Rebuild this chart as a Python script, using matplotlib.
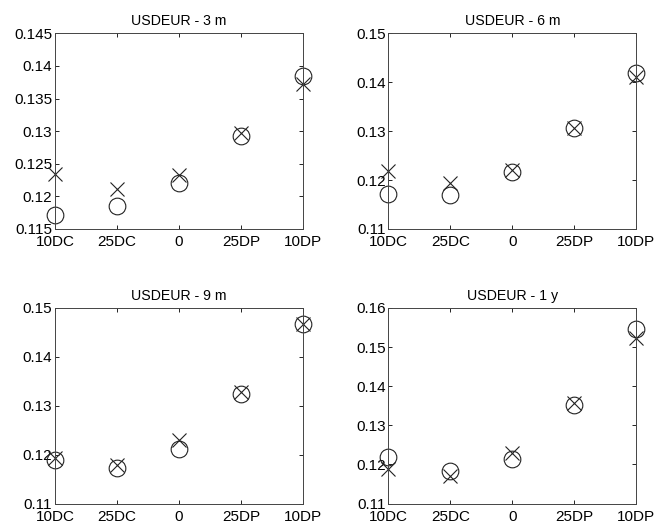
import matplotlib
matplotlib.use("Agg")
import matplotlib.pyplot as plt

plt.rcParams['font.family'] = ['Liberation Sans', 'DejaVu Sans']

categories = ["10DC", "25DC", "0", "25DP", "10DP"]

titles = ["USDEUR - 3 m", "USDEUR - 6 m", "USDEUR - 9 m", "USDEUR - 1 y"]

circle_3m = [0.1172, 0.1185, 0.1221, 0.1292, 0.1384]
cross_3m = [0.1235, 0.1211, 0.1233, 0.1297, 0.1373]

circle_6m = [0.1172, 0.1169, 0.1216, 0.1307, 0.1418]
cross_6m = [0.1219, 0.1194, 0.1221, 0.1307, 0.1410]

circle_9m = [0.1188, 0.1172, 0.1211, 0.1324, 0.1467]
cross_9m = [0.1193, 0.1179, 0.1230, 0.1329, 0.1467]

circle_1y = [0.1219, 0.1183, 0.1214, 0.1353, 0.1545]
cross_1y = [0.1188, 0.1171, 0.1230, 0.1357, 0.1523]

ylims = [(0.115, 0.145), (0.11, 0.15), (0.11, 0.15), (0.11, 0.16)]
yticks = [
    [0.115, 0.12, 0.125, 0.13, 0.135, 0.14, 0.145],
    [0.11, 0.12, 0.13, 0.14, 0.15],
    [0.11, 0.12, 0.13, 0.14, 0.15],
    [0.11, 0.12, 0.13, 0.14, 0.15, 0.16],
]
ytick_labels = [
    ["0.115", "0.12", "0.125", "0.13", "0.135", "0.14", "0.145"],
    ["0.11", "0.12", "0.13", "0.14", "0.15"],
    ["0.11", "0.12", "0.13", "0.14", "0.15"],
    ["0.11", "0.12", "0.13", "0.14", "0.15", "0.16"],
]

circles = [circle_3m, circle_6m, circle_9m, circle_1y]
crosses = [cross_3m, cross_6m, cross_9m, cross_1y]

positions = [
    [0.084, 0.568, 0.379, 0.369],
    [0.594, 0.568, 0.379, 0.369],
    [0.084, 0.050, 0.379, 0.369],
    [0.594, 0.050, 0.379, 0.369],
]

fig = plt.figure(figsize=(6.54, 5.30), dpi=100)
x = list(range(len(categories)))
ink = "#222222"

for i in range(4):
    ax = fig.add_axes(positions[i])
    ax.plot(x, crosses[i], linestyle="none", marker="x", markersize=9.5,
            markeredgewidth=0.8, color=ink, clip_on=False)
    ax.plot(x, circles[i], linestyle="none", marker="o", markersize=12,
            markerfacecolor="none", markeredgewidth=0.8, markeredgecolor=ink,
            clip_on=False)
    ax.set_xlim(0, 4)
    ax.set_ylim(*ylims[i])
    ax.set_xticks(x)
    ax.set_xticklabels(categories)
    ax.set_yticks(yticks[i])
    ax.set_yticklabels(ytick_labels[i])
    ax.tick_params(direction="in", top=True, right=True, length=3,
                   width=0.6, labelsize=11, colors="black")
    ax.tick_params(axis="x", pad=4.5)
    ax.tick_params(axis="y", pad=2)
    for sp in ax.spines.values():
        sp.set_linewidth(0.7)
        sp.set_color("#444444")
    ax.set_title(titles[i], fontsize=10.2, pad=6)

fig.savefig("out.png", dpi=100)
